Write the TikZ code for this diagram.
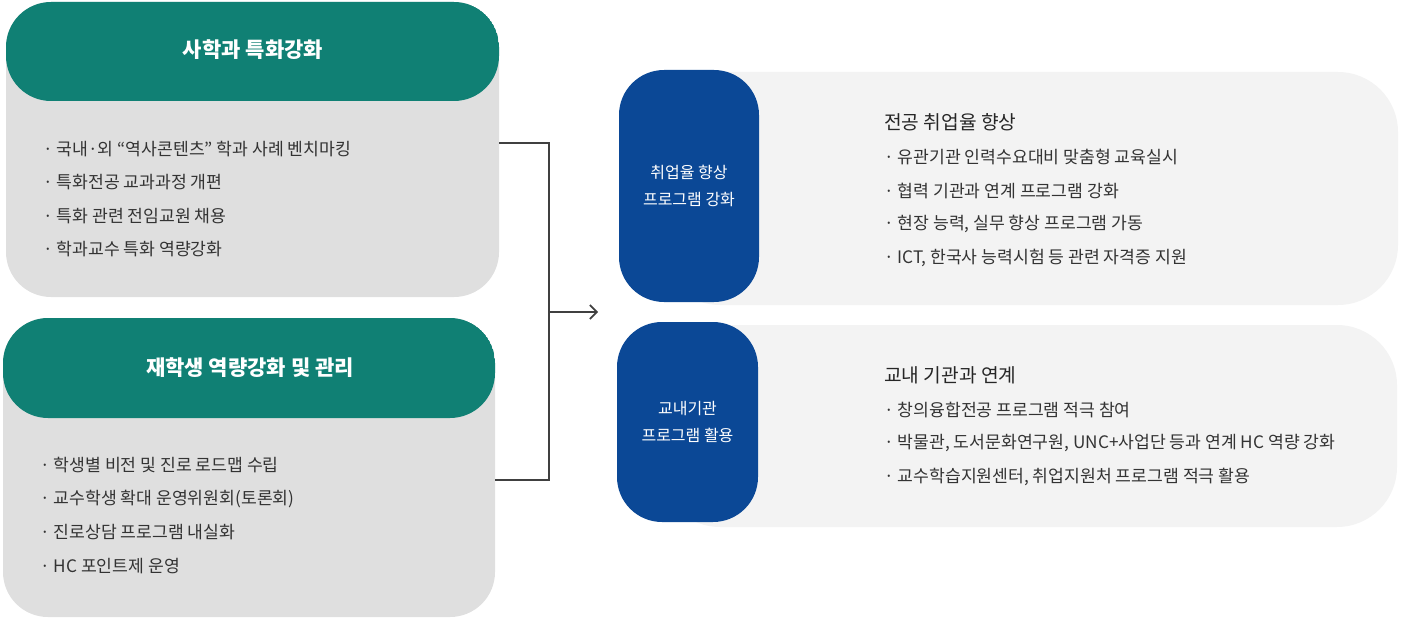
\documentclass[tikz,border=0pt]{standalone}
\usepackage{fontspec}
\setmainfont{Noto Sans CJK KR}
\usetikzlibrary{arrows.meta}
\definecolor{hdteal}{RGB}{16,128,116}
\definecolor{bodygray}{RGB}{223,223,223}
\definecolor{navy}{RGB}{11,72,150}
\definecolor{panelgray}{RGB}{243,243,243}
\definecolor{itemtext}{RGB}{51,51,51}
\definecolor{linecol}{RGB}{64,64,64}
\tikzset{
  leftbox/.style={rectangle, rounded corners=45pt, fill=bodygray, inner sep=0pt,
    path picture={\fill[hdteal] (path picture bounding box.north west) rectangle ([yshift=-#1]path picture bounding box.north east);}},
  hdtext/.style={text=white, font=\fontsize{21}{24}\selectfont\bfseries},
  item/.style={anchor=west, text=itemtext, inner sep=0pt, font=\fontsize{17.2}{20}\selectfont},
  ritem/.style={anchor=west, text=itemtext, inner sep=0pt, font=\fontsize{17.2}{20}\selectfont},
  rtitle/.style={anchor=west, text=black!85, inner sep=0pt, font=\fontsize{19.2}{22}\selectfont},
  bluebox/.style={rectangle, rounded corners=45pt, fill=navy, inner sep=0pt, text=white,
    align=center, font=\fontsize{16}{27}\selectfont},
  panel/.style={rectangle, rounded corners=60pt, fill=panelgray, inner sep=0pt},
  conn/.style={draw=linecol, line width=1.6pt},
}
\begin{document}
\begin{tikzpicture}[x=1pt,y=-1pt]
\useasboundingbox (0,0) rectangle (1401,626);
% left boxes
\node[leftbox=99pt, minimum width=493pt, minimum height=295pt] (b1) at (252.5,149.5) {};
\node[hdtext] (h1) at (253,50) {사학과 특화강화};
\node[item] (i11) at (43,149) {· 국내·외 “역사콘텐츠” 학과 사례 벤치마킹};
\node[item] (i12) at (43,182.5) {· 특화전공 교과과정 개편};
\node[item] (i13) at (43,216) {· 특화 관련 전임교원 채용};
\node[item] (i14) at (43,249.5) {· 학과교수 특화 역량강화};

\node[leftbox=100pt, minimum width=492pt, minimum height=299pt] (b2) at (249,467.5) {};
\node[hdtext] (h2) at (250,368) {재학생 역량강화 및 관리};
\node[item] (i21) at (40,465.5) {· 학생별 비전 및 진로 로드맵 수립};
\node[item] (i22) at (40,499) {· 교수학생 확대 운영위원회(토론회)};
\node[item] (i23) at (40,532.5) {· 진로상담 프로그램 내실화};
\node[item] (i24) at (40,566) {· HC 포인트제 운영};

% connectors
\coordinate (j) at (549,312);
\coordinate (tip) at (598,312);
\draw[conn] (b1.east |- 0,143) -| (j);
\draw[conn] (b2.east |- 0,480) -| (j);
\draw[conn, -{Straight Barb[length=7pt,width=14pt,line width=1.6pt]}] (j) -- (tip);

% right panels
\node[panel, minimum width=738pt, minimum height=233pt] (p1) at (1029,188.5) {};
\node[bluebox, minimum width=140pt, minimum height=232pt] (c1) at (689,186) {취업율 향상\\프로그램 강화};
\node[rtitle] (t1) at (884,122) {전공 취업율 향상};
\node[ritem] (r11) at (884,157) {· 유관기관 인력수요대비 맞춤형 교육실시};
\node[ritem] (r12) at (884,190.5) {· 협력 기관과 연계 프로그램 강화};
\node[ritem] (r13) at (884,224) {· 현장 능력, 실무 향상 프로그램 가동};
\node[ritem] (r14) at (884,258) {· ICT, 한국사 능력시험 등 관련 자격증 지원};

\node[panel, minimum width=737pt, minimum height=202pt] (p2) at (1028.5,426) {};
\node[bluebox, minimum width=141pt, minimum height=200pt] (c2) at (687.5,422) {교내기관\\프로그램 활용};
\node[rtitle] (t2) at (884,375) {교내 기관과 연계};
\node[ritem] (r21) at (884,410) {· 창의융합전공 프로그램 적극 참여};
\node[ritem] (r22) at (884,443.5) {· 박물관, 도서문화연구원, UNC+사업단 등과 연계 HC 역량 강화};
\node[ritem] (r23) at (884,477) {· 교수학습지원센터, 취업지원처 프로그램 적극 활용};
\end{tikzpicture}
\end{document}
